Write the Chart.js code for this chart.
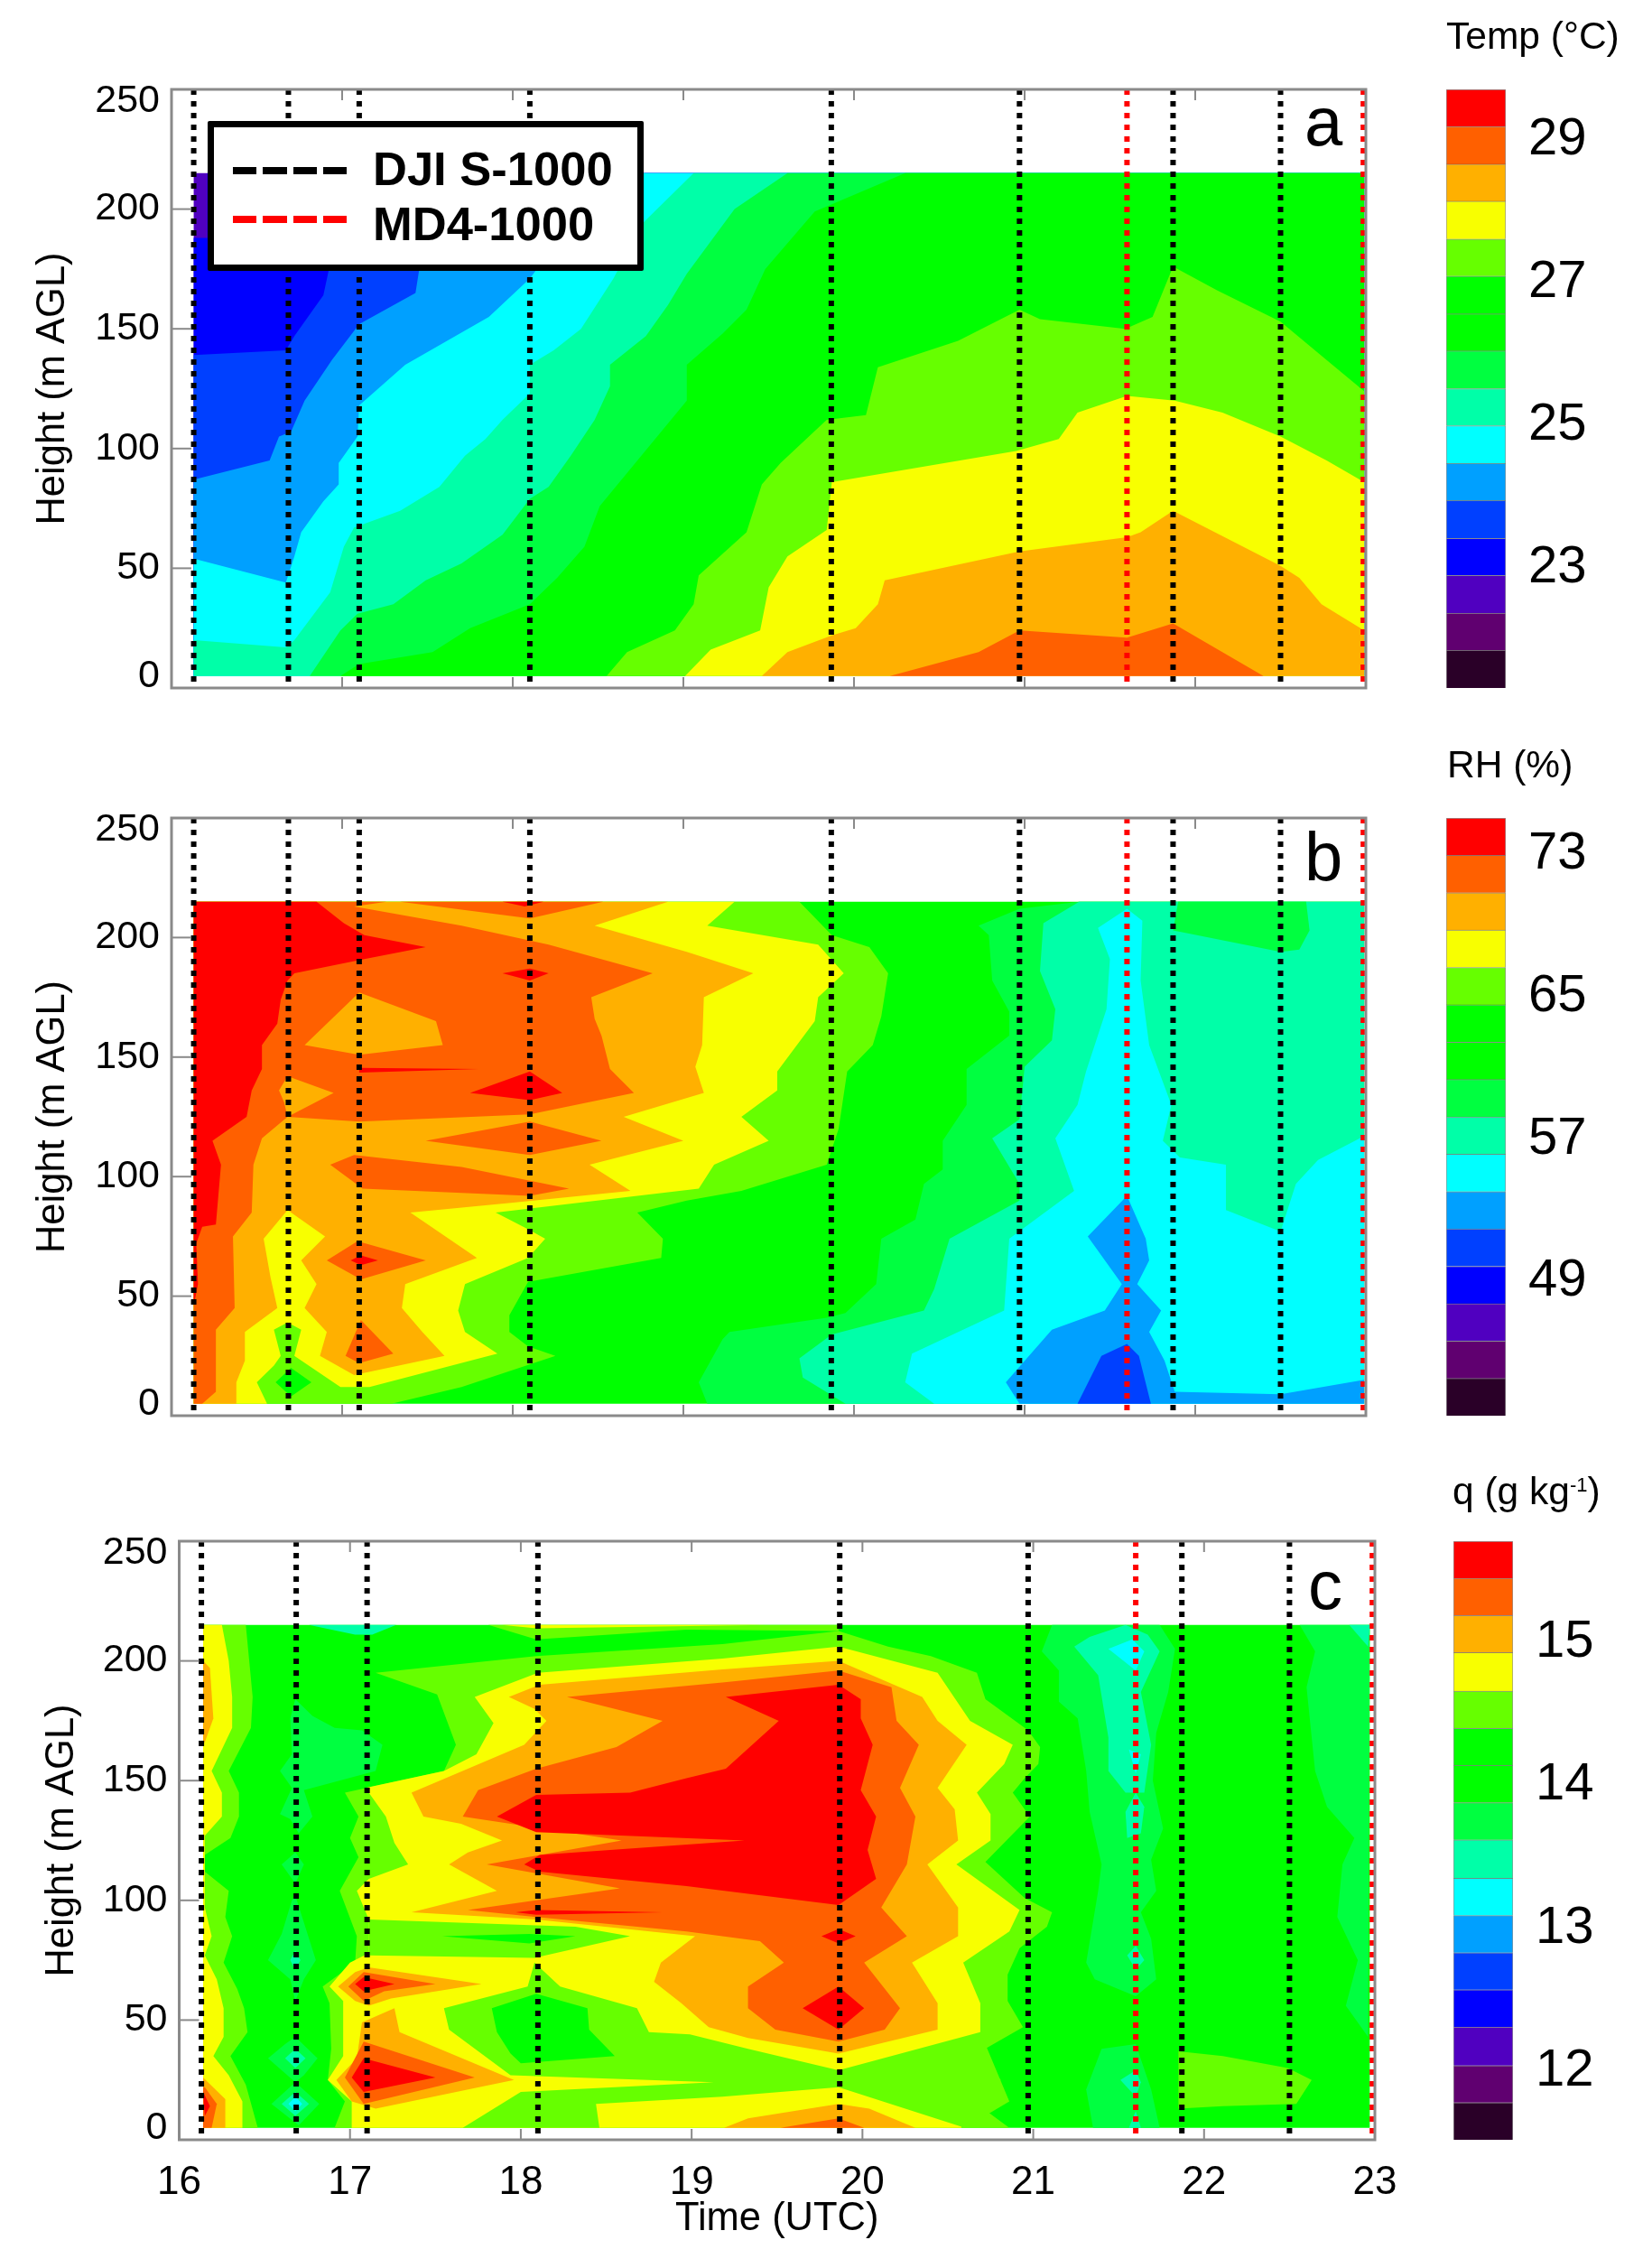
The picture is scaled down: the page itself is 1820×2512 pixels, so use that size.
<!DOCTYPE html>
<html>
<head>
<meta charset="utf-8">
<title>Temp, RH and q time-height sections</title>
<script src="https://cdn.jsdelivr.net/npm/chart.js@4"></script>
<style>
  html, body { margin: 0; padding: 0; background: #fff; }
  #page { position: relative; width: 1820px; height: 2512px; overflow: hidden; font-family: "Liberation Sans", Arial, sans-serif; color: #000; filter: blur(0.7px); }
  canvas { position: absolute; }
  .lbl { position: absolute; white-space: nowrap; line-height: 1; }
  .cbtitle { font-size: 42.5px; }
  .letter { font-size: 76px; }
  sup { font-size: 22px; line-height: 0; vertical-align: 14px; }
  #legend { position: absolute; left: 230px; top: 134px; width: 469px; height: 152px; border: 7px solid #000; background: #fff; border-radius: 2px; }
  #legend .dash { position: absolute; left: 21px; width: 126px; height: 8px; }
  #legend .name { position: absolute; left: 176px; font-size: 52.5px; font-weight: bold; line-height: 1; white-space: nowrap; }
</style>
</head>
<body>
<div id="page">
  <canvas id="panelA" width="1560" height="790" style="left:0;top:0"></canvas>
  <canvas id="panelB" width="1560" height="800" style="left:0;top:800px"></canvas>
  <canvas id="panelC" width="1560" height="900" style="left:0;top:1600px"></canvas>
  <canvas id="barA" width="218" height="723" style="left:1602px;top:69px"></canvas>
  <canvas id="barB" width="218" height="722" style="left:1602px;top:876px"></canvas>
  <canvas id="barC" width="210" height="723" style="left:1610px;top:1677px"></canvas>

  <div class="lbl cbtitle" style="left:1602px;top:19px">Temp (°C)</div>
  <div class="lbl cbtitle" style="left:1603px;top:826px">RH (%)</div>
  <div class="lbl cbtitle" style="left:1609px;top:1631px">q (g kg<sup>-1</sup>)</div>

  <div class="lbl letter" style="left:1445px;top:97px">a</div>
  <div class="lbl letter" style="left:1445px;top:911px">b</div>
  <div class="lbl letter" style="left:1449px;top:1718px">c</div>

  <div id="legend">
    <div class="dash" style="top:44px;background:repeating-linear-gradient(90deg,#000 0 26px,transparent 26px 33.5px)"></div>
    <div class="name" style="top:20px">DJI S-1000</div>
    <div class="dash" style="top:98px;background:repeating-linear-gradient(90deg,#f00 0 26px,transparent 26px 33.5px)"></div>
    <div class="name" style="top:81px">MD4-1000</div>
  </div>
</div>

<script>
// colour bands, bottom of the colour bar first
var bandColors = ["#2a0028", "#600070", "#5000c0", "#0000ff", "#0040ff", "#00a0ff", "#00ffff", "#00ffa8", "#00ff40", "#00ff00", "#00ff00", "#66ff00", "#f8ff00", "#ffb000", "#ff6000", "#ff0000"];

// flights, hours UTC
var flightsDji = [16.13, 16.685, 17.10, 18.10, 19.867, 20.97, 21.87, 22.50];
var flightsMd4 = [21.60, 22.985];

var hourTicks = [16, 17, 18, 19, 20, 21, 22, 23];
var heightTicks = [0, 50, 100, 150, 200, 250];

// colour bar levels
var tempLevels = [21.25, 21.78, 22.30, 22.83, 23.35, 23.88, 24.40, 24.93, 25.45, 25.98, 26.50, 27.03, 27.55, 28.08, 28.60, 29.13, 29.65];
var tempTicks = [23, 25, 27, 29];
var rhLevels = [41.3, 43.4, 45.5, 47.6, 49.7, 51.8, 53.9, 56.0, 58.1, 60.2, 62.3, 64.4, 66.5, 68.6, 70.7, 72.8, 74.9];
var rhTicks = [49, 57, 65, 73];
var qLevels = [11.50, 11.76, 12.02, 12.29, 12.55, 12.81, 13.07, 13.33, 13.60, 13.86, 14.12, 14.38, 14.64, 14.91, 15.17, 15.43, 15.69];
var qTicks = [12, 13, 14, 15];

// contour regions: flat lists of hour, height pairs

// Panel a - temperature
var tempBase = [16.13,5, 22.99,5, 22.99,215, 16.13,215];
var tempBlue = [16.13,188, 16.21,188, 16.21,215, 22.99,215, 22.99,5, 16.13,5];
var tempBlue2 = [16.13,139, 16.67,141, 16.72,147, 16.89,164, 16.92,174, 17.07,211, 17.13,215, 22.99,215, 22.99,5, 16.13,5];
var tempSky = [16.13,87, 16.575,95, 16.63,105, 16.70,107, 16.78,120, 16.94,137, 17.10,152, 17.43,165, 17.45,174, 17.64,198, 17.80,215, 22.99,215, 22.99,5, 16.13,5];
var tempCyan = [16.13,54, 16.67,44, 16.72,55, 16.76,65, 16.89,78, 16.98,85, 16.98,94, 17.09,105, 17.10,118, 17.37,135, 17.86,155, 18.10,171, 18.32,192, 18.69,215, 22.99,215, 22.99,5, 16.13,5];
var tempTeal = [16.13,20, 16.67,17, 16.72,20, 16.93,40, 17.01,59, 17.07,67, 17.34,74, 17.57,84, 17.72,97, 17.84,104, 17.94,112, 18.10,123, 18.10,135, 18.24,141, 18.40,150, 18.59,171, 18.76,194, 19.06,215, 22.99,215, 22.99,5, 16.13,5];
var tempSpring = [16.81,5, 16.99,24, 17.09,31, 17.30,35, 17.49,45, 17.70,52, 17.94,64, 18.10,79, 18.21,84, 18.34,97, 18.48,112, 18.57,126, 18.57,135, 18.78,147, 18.91,160, 19.02,173, 19.30,200, 19.61,215, 22.99,215, 22.99,5];
var tempGreen = [16.99,5, 17.10,10, 17.53,15, 17.75,25, 18.10,35, 18.26,46, 18.42,59, 18.51,76, 19.02,120, 19.02,135, 19.23,148, 19.37,158, 19.48,175, 19.77,199, 20.30,215, 22.99,215, 22.99,5];
var tempLime = [18.55,5, 18.67,15, 18.95,24, 19.06,35, 19.09,47, 19.37,65, 19.46,85, 19.57,94, 19.84,112, 20.07,114, 20.14,134, 20.61,145, 20.97,158, 21.09,154, 21.59,150, 21.75,155, 21.87,176, 22.13,166, 22.50,153, 22.77,137, 22.99,124, 22.99,5];
var tempYellow = [19.01,5, 19.16,16, 19.45,24, 19.50,42, 19.61,55, 19.84,66, 19.87,86, 20.95,99, 21.20,104, 21.31,115, 21.60,122, 21.88,120, 22.16,115, 22.50,105, 22.77,95, 22.99,86, 22.99,5];
var tempOrange = [19.46,5, 19.61,15, 19.87,22, 20.01,25, 20.14,35, 20.18,45, 20.97,57, 21.60,63, 21.68,65, 21.87,74, 22.50,51, 22.61,46, 22.74,35, 22.99,24, 22.99,5];
var tempDark = [20.21,5, 20.73,15, 20.97,24, 21.60,21, 21.87,27, 22.40,5];

var tempContours = [[2, tempBase], [3, tempBlue], [4, tempBlue2], [5, tempSky], [6, tempCyan], [7, tempTeal], [8, tempSpring], [10, tempGreen], [11, tempLime], [12, tempYellow], [13, tempOrange], [14, tempDark]];

// Panel b - relative humidity
var rhBase = [16.13,5, 22.99,5, 22.99,215, 16.13,215];
var rhLime = [16.13,5, 17.29,5, 17.70,12, 18.25,25, 18.09,29, 17.98,35, 17.98,42, 18.09,56, 18.87,66, 18.88,74, 18.73,85, 19.02,90, 19.34,94, 19.84,105, 19.91,120, 19.96,144, 20.11,155, 20.16,167, 20.20,185, 20.09,196, 19.87,201, 19.68,215, 16.13,215];
var rhYellow = [16.13,5, 16.56,5, 16.50,14, 16.60,21, 16.64,25, 16.60,36, 16.68,39, 16.76,36, 16.72,25, 16.99,12, 17.16,12, 17.91,26, 17.72,35, 17.68,44, 17.72,55, 18.09,66, 18.19,74, 18.09,78, 17.90,85, 19.09,95, 19.18,105, 19.50,115, 19.34,125, 19.55,136, 19.55,144, 19.77,165, 19.79,175, 19.94,185, 19.79,197, 19.14,205, 19.30,215, 16.13,215];
var rhGreenSpot = [16.61,14, 16.70,20, 16.82,14, 16.70,8];
var rhOrange = [16.13,5, 16.38,5, 16.38,14, 16.43,23, 16.43,35, 16.62,45, 16.58,58, 16.54,74, 16.68,86, 16.90,75, 16.76,65, 16.85,55, 16.78,45, 16.91,35, 16.87,25, 17.07,17, 17.60,25, 17.47,35, 17.35,45, 17.37,55, 17.79,66, 17.40,85, 17.99,89, 18.69,94, 18.45,105, 19.00,115, 18.65,125, 19.12,135, 19.07,146, 19.11,155, 19.12,175, 19.41,185, 19.02,194, 18.48,205, 18.91,215, 16.13,215];
var rhDark = [16.13,5, 16.18,5, 16.26,10, 16.26,36, 16.37,45, 16.36,75, 16.47,85, 16.48,105, 16.53,116, 16.68,125, 17.10,123, 18.10,126, 18.71,135, 18.57,145, 18.52,159, 18.48,166, 18.46,175, 18.82,185, 18.21,197, 17.70,205, 17.07,213, 17.26,215, 16.13,215];
var rhOrangeHole1 = [16.78,155, 17.10,177, 17.55,165, 17.59,155, 17.10,151];
var rhOrangeHole2 = [16.63,136, 16.68,142, 16.95,135, 16.68,125, 16.66,131];
var rhDark1 = [17.34,215, 18.10,208, 18.53,215];
var rhDark2 = [17.49,115, 18.10,123, 18.52,115, 18.10,109];
var rhDark3 = [16.93,105, 17.07,109, 17.70,104, 18.33,95, 18.10,92, 17.12,95];
var rhDark4 = [16.91,65, 17.09,73, 17.49,65, 17.11,57];
var rhDark5 = [17.02,25, 17.11,40, 17.30,26, 17.10,22];
var rhRed = [16.13,46, 16.155,55, 16.145,72, 16.18,79, 16.26,80, 16.29,105, 16.24,115, 16.44,125, 16.47,136, 16.53,145, 16.53,155, 16.62,164, 16.64,174, 16.68,182, 16.72,185, 17.13,191, 17.49,196, 17.13,201, 17.01,206, 16.85,215, 16.13,215];
var rhRed1 = [17.94,185, 18.10,187, 18.21,185, 18.10,182];
var rhRed2 = [17.10,145.5, 17.80,145, 17.10,143.5];
var rhRed3 = [17.75,135, 18.10,144, 18.29,135, 18.10,132];
var rhRed4 = [17.05,65, 17.11,67, 17.21,65, 17.11,63];
var rhRed5 = [17.94,215, 18.18,215, 18.07,213];
var rhSpring = [19.14,5, 19.09,14, 19.23,32, 19.27,35, 19.84,41, 19.95,43, 20.13,55, 20.16,74, 20.36,82, 20.41,97, 20.52,103, 20.52,115, 20.66,130, 20.66,145, 20.91,159, 20.91,169, 20.81,182, 20.79,201, 20.73,205, 20.97,212, 21.32,215, 22.99,215, 22.99,5];
var rhTeal = [19.95,5, 19.70,16, 19.68,24, 19.87,34, 20.41,44, 20.47,53, 20.56,74, 20.97,90, 20.97,97, 20.81,116, 20.97,124, 21.00,146, 21.16,157, 21.18,170, 21.09,186, 21.11,206, 21.32,215, 22.99,215, 22.99,5];
var rhSpringSpot = [21.87,203, 22.50,194, 22.61,195, 22.67,203, 22.65,215, 21.90,215];
var rhCyan = [20.47,5, 20.30,14, 20.34,26, 20.88,44, 20.91,74, 21.29,94, 21.18,116, 21.31,130, 21.36,144, 21.48,170, 21.50,191, 21.43,204, 21.60,212, 21.69,207, 21.68,182, 21.73,155, 21.86,130, 21.81,115, 21.91,108, 22.18,105, 22.18,86, 22.50,77, 22.59,97, 22.72,107, 22.99,117, 22.99,5];
var rhSky = [20.97,5, 20.89,14, 21.16,36, 21.47,44, 21.57,55, 21.37,75, 21.60,92, 21.71,74, 21.73,65, 21.66,55, 21.80,44, 21.73,35, 21.82,23, 21.88,10, 22.50,9, 22.99,15, 22.99,5];
var rhBlue2 = [21.31,5, 21.45,25, 21.60,30, 21.67,25, 21.74,5];

var rhContours = [[10, rhBase], [8, rhSpring], [7, rhTeal], [8, rhSpringSpot], [6, rhCyan], [5, rhSky], [4, rhBlue2], [11, rhLime], [10, rhGreenSpot], [12, rhYellow], [13, rhOrange], [14, rhDark], [13, rhOrangeHole1], [13, rhOrangeHole2], [14, rhDark1], [14, rhDark2], [14, rhDark3], [14, rhDark4], [14, rhDark5], [15, rhRed], [15, rhRed1], [15, rhRed2], [15, rhRed3], [15, rhRed4], [15, rhRed5]];

// Panel c - mixing ratio
var qBase = [16.14,5, 22.97,5, 22.97,215, 16.14,215];
var qLeftLime = [16.14,215, 16.39,215, 16.43,185, 16.42,172, 16.29,154, 16.35,145, 16.35,135, 16.30,126, 16.15,119, 16.14,116, 16.15,112, 16.29,104, 16.27,93, 16.31,85, 16.26,74, 16.34,63, 16.38,55, 16.40,45, 16.30,35, 16.39,23, 16.46,5, 16.14,5];
var qLeftYellow = [16.14,215, 16.25,215, 16.29,200, 16.31,185, 16.31,172, 16.19,154, 16.25,145, 16.25,135, 16.15,127, 16.15,97, 16.19,85, 16.15,77, 16.22,67, 16.26,55, 16.26,43, 16.20,35, 16.29,27, 16.37,16, 16.37,5, 16.14,5];
var qLeftOrange1 = [16.14,200, 16.18,197, 16.20,176, 16.15,166, 16.14,166];
var qLeftOrange2 = [16.14,26, 16.27,17, 16.27,5, 16.14,5];
var qLeftDark = [16.15,22, 16.22,15, 16.19,5, 16.14,5, 16.14,22];
var qLeftRed = [16.14,20, 16.18,14, 16.15,10];
var qSpring1 = [16.68,184, 16.78,177, 16.91,172, 17.07,171, 17.19,165, 17.15,154, 16.73,146, 16.78,135, 16.70,128, 16.65,134, 16.59,136, 16.66,147, 16.59,154, 16.66,161, 16.65,176];
var qSpring2 = [16.68,120, 16.73,115, 16.68,107, 16.60,115];
var qSpring3 = [16.68,102, 16.80,75, 16.73,67, 16.68,58, 16.65,67, 16.52,75, 16.60,86, 16.66,100];
var qSpring4 = [16.68,43, 16.81,34, 16.73,27, 16.68,24, 16.60,29, 16.52,34, 16.62,40];
var qSpring5 = [16.68,24, 16.82,15, 16.70,6, 16.54,15];
var qTeal1 = [16.62,34, 16.68,38, 16.74,34, 16.68,30];
var qTeal2 = [16.60,15, 16.68,20, 16.76,15, 16.68,10];
var qTeal3 = [16.65,75, 16.68,79, 16.71,75, 16.68,71];
var qCyan1 = [16.64,15, 16.68,18, 16.72,15, 16.68,12];
var qTopTeal = [16.76,215, 17.03,211, 17.13,211, 17.27,215];
var qMainLime = [16.91,5, 16.97,16, 16.87,25, 16.89,38, 16.88,57, 16.84,64, 17.03,74, 17.04,85, 16.94,104, 17.05,118, 17.00,126, 17.05,135, 16.97,145, 17.55,154, 17.62,165, 17.51,186, 17.15,195, 18.09,202, 19.18,207, 19.86,212.5, 20.15,206, 20.40,202, 20.67,195, 20.72,184, 20.97,171, 21.04,164, 21.03,157, 20.95,151, 20.88,145, 20.98,135, 20.72,116, 20.95,101, 21.11,95, 21.08,89, 20.92,80, 20.85,69, 20.85,58, 20.94,47, 20.67,36, 20.81,25, 20.67,15, 20.86,5];
var qTopLime = [17.81,215, 18.09,209, 18.97,213, 19.86,212.5, 19.86,215];
var qTopYellow = [17.89,215, 18.09,213.6, 19.44,215];
var qMainYellow = [17.01,5, 17.01,16, 16.87,25, 16.96,35, 16.96,58, 16.88,64, 17.00,74, 17.11,78, 17.11,92, 17.04,104, 17.11,109, 17.34,115, 17.26,124, 17.21,135, 17.09,147, 17.55,154, 17.74,161, 17.84,174, 17.73,185, 18.10,195, 19.18,201, 19.86,206, 20.44,195, 20.63,175, 20.88,165, 20.83,157, 20.67,145, 20.75,136, 20.75,125, 20.55,115, 20.92,96, 20.86,87, 20.59,74, 20.69,57, 20.69,45, 20.54,23, 20.58,5];
var qLowLime = [17.55,55, 18.04,64, 18.08,74, 18.23,64, 18.68,55, 18.75,45, 18.99,44, 19.33,38, 19.86,29, 20.69,45, 20.86,16, 20.60,5, 19.86,22, 19.18,18, 18.44,15, 18.46,5, 17.66,5, 18.00,20, 19.13,24, 17.94,27, 17.58,46];
var qLimeStrip = [17.11,92, 18.32,89, 18.64,85, 18.08,76, 17.11,77];
var qGreen1 = [17.54,85, 18.05,86, 18.32,85, 18.05,82];
var qGreen2 = [17.83,55, 18.09,61, 18.39,55, 18.40,46, 18.55,35, 18.00,32, 17.94,36, 17.86,45];
var qMainOrange = [17.36,145, 17.43,135, 17.65,132, 17.89,125, 17.69,120, 17.58,115, 17.86,104, 17.36,95, 18.09,92, 19.02,85, 18.82,74, 18.78,66, 18.94,57, 19.10,47, 19.33,42.5, 19.86,36, 20.44,46, 20.44,57, 20.29,74, 20.56,85, 20.56,97, 20.38,115, 20.56,125, 20.54,138, 20.44,147, 20.61,165, 20.44,175, 20.35,185, 19.86,200, 19.18,196.5, 18.11,190, 17.93,185, 18.08,180, 18.15,175, 18.02,165];
var qMainDark = [17.66,135, 17.75,146, 18.09,155, 18.56,164, 18.83,175, 18.27,185, 19.18,191, 19.86,196, 20.17,189, 20.20,175, 20.33,165, 20.22,147, 20.31,135, 20.26,115, 20.11,97, 20.26,85, 20.01,74, 20.22,55, 20.13,46, 19.86,41, 19.49,46, 19.33,55, 19.33,64, 19.54,74, 19.40,83, 18.97,87, 18.09,93, 17.69,96, 18.58,105, 17.80,115, 18.59,125];
var qMainRed = [17.86,135, 18.09,144, 18.64,145, 18.97,151, 19.20,155, 19.51,175, 19.20,185, 19.86,190, 19.99,184, 19.99,176, 20.06,165, 19.99,146, 20.08,135, 20.03,121, 20.08,109, 19.86,98, 18.97,106, 18.11,112, 18.02,115, 18.11,119, 19.31,125, 18.09,128.5];
var qRedThin = [17.97,95, 18.09,96, 18.83,95, 18.09,94];
var qRedSpot1 = [19.76,85, 19.86,88, 19.96,85, 19.86,82];
var qRedSpot2 = [19.65,55, 19.86,64, 20.01,55, 19.86,46];
var qOrange1 = [16.93,64, 17.03,70, 17.11,72, 17.77,65, 17.24,59, 17.11,56, 17.03,58];
var qOrange2 = [16.92,25, 17.04,34, 17.07,49, 17.26,55, 17.29,45, 17.96,25, 17.15,13, 17.01,16];
var qDark1 = [16.99,64, 17.08,70, 17.50,65, 17.20,62, 17.08,58];
var qDark2 = [16.97,26, 17.08,41, 17.73,26, 17.08,15];
var qRed1 = [17.03,65, 17.08,68, 17.26,65, 17.08,62];
var qRed2 = [17.01,26, 17.08,34, 17.50,26, 17.08,20];
var qLensOrange = [19.19,5, 19.33,9, 19.86,15, 20.04,13, 20.31,5];
var qLensDark = [19.52,5, 19.86,9, 20.01,5];
var qRightSpring1 = [21.11,215, 21.05,204, 21.15,196, 21.15,183, 21.26,176, 21.31,154, 21.33,137, 21.40,115, 21.38,104, 21.31,74, 21.36,67, 21.60,60, 21.72,67, 21.69,84, 21.63,95, 21.72,104, 21.69,117, 21.76,130, 21.70,150, 21.72,170, 21.79,187, 21.83,205, 21.74,215];
var qRightSpring2 = [21.35,5, 21.31,21, 21.40,38, 21.60,40, 21.69,21, 21.74,5];
var qRightTeal1 = [21.24,206, 21.33,210, 21.54,215, 21.67,211, 21.74,204, 21.63,187, 21.69,165, 21.65,145, 21.54,145, 21.44,154, 21.44,168, 21.38,194];
var qRightTeal2 = [21.54,137, 21.60,145, 21.65,139, 21.63,128, 21.55,126];
var qRightTeal3 = [21.55,77, 21.60,81, 21.65,75, 21.60,71];
var qRightTeal4 = [21.51,25, 21.60,29, 21.63,24, 21.60,18];
var qRightTeal5 = [21.56,5, 21.60,12, 21.63,5];
var qRightCyan1 = [21.44,205, 21.58,209, 21.65,204, 21.60,196];
var qRightCyan2 = [21.56,163, 21.63,161, 21.60,153];
var qEdgeSpring = [22.56,215, 22.65,204, 22.60,189, 22.65,154, 22.72,139, 22.88,126, 22.81,115, 22.78,93, 22.90,75, 22.83,56, 22.96,43, 22.97,215];
var qEdgeTeal = [22.85,215, 22.96,206, 22.97,215];
var qRightLime = [21.85,37, 22.11,35, 22.49,30, 22.63,25, 22.54,15, 22.11,14, 21.85,13];

var qContours = [[10, qBase], [11, qLeftLime], [12, qLeftYellow], [13, qLeftOrange1], [13, qLeftOrange2], [14, qLeftDark], [15, qLeftRed],
  [8, qSpring1], [8, qSpring2], [8, qSpring3], [8, qSpring4], [8, qSpring5], [7, qTeal1], [7, qTeal2], [7, qTeal3], [6, qCyan1], [7, qTopTeal],
  [8, qRightSpring1], [8, qRightSpring2], [7, qRightTeal1], [7, qRightTeal2], [7, qRightTeal3], [7, qRightTeal4], [7, qRightTeal5], [6, qRightCyan1], [6, qRightCyan2],
  [8, qEdgeSpring], [7, qEdgeTeal], [11, qRightLime],
  [11, qMainLime], [11, qTopLime], [12, qTopYellow], [12, qMainYellow], [11, qLowLime], [11, qLimeStrip], [10, qGreen1], [10, qGreen2],
  [13, qMainOrange], [14, qMainDark], [15, qMainRed], [15, qRedThin], [15, qRedSpot1], [15, qRedSpot2],
  [13, qOrange1], [13, qOrange2], [14, qDark1], [14, qDark2], [15, qRed1], [15, qRed2], [13, qLensOrange], [14, qLensDark]];

var frameColor = "#8a8a8a";
var textFont = "'Liberation Sans', Arial, sans-serif";

function toPoints(flat){
  var pts = [];
  for(var i = 0; i < flat.length; i = i + 2){
    pts.push({x: flat[i], y: flat[i + 1]});
  }
  return pts;
}

// fills a dataset as a closed polygon, points come from the chart's own scales
var contourFill = {
  id: "contourFill",
  beforeDatasetDraw: function(chart, args){
    var ds = chart.data.datasets[args.index];
    if(!ds.polygon || args.meta.data.length == 0) return;
    var ctx = chart.ctx;
    ctx.save();
    ctx.beginPath();
    args.meta.data.forEach(function(p, i){
      if(i == 0) ctx.moveTo(p.x, p.y); else ctx.lineTo(p.x, p.y);
    });
    ctx.closePath();
    ctx.fillStyle = ds.backgroundColor;
    ctx.fill();
    ctx.restore();
  }
};

// gray box, inward ticks and the two end labels that sit inside the axis range
var axisFrame = {
  id: "axisFrame",
  afterDatasetsDraw: function(chart){
    var ctx = chart.ctx;
    var a = chart.chartArea;
    var xs = chart.scales.x;
    var ys = chart.scales.y;
    ctx.save();
    ctx.strokeStyle = frameColor;
    ctx.lineWidth = 2;
    xs.ticks.forEach(function(t){
      var px = xs.getPixelForValue(t.value);
      ctx.beginPath();
      ctx.moveTo(px, a.top); ctx.lineTo(px, a.top + 12);
      ctx.moveTo(px, a.bottom); ctx.lineTo(px, a.bottom - 12);
      ctx.stroke();
    });
    ys.ticks.forEach(function(t){
      var py = ys.getPixelForValue(t.value);
      ctx.beginPath();
      ctx.moveTo(a.left, py); ctx.lineTo(a.left + 22, py);
      ctx.stroke();
    });
    ctx.lineWidth = 3;
    ctx.strokeRect(a.left, a.top, a.right - a.left, a.bottom - a.top);

    ctx.fillStyle = "#000";
    ctx.font = "43px " + textFont;
    ctx.textAlign = "right";
    ctx.textBaseline = "middle";
    ctx.fillText("250", a.left - 13, ys.getPixelForValue(250) + 13);
    ctx.fillText("0", a.left - 13, ys.getPixelForValue(0) - 13);
    ctx.restore();
  }
};

function flightDatasets(hours, color){
  return hours.map(function(h){
    return {
      data: [{x: h, y: 250}, {x: h, y: 0}],
      showLine: true,
      pointRadius: 0,
      borderColor: color,
      borderWidth: 6,
      borderDash: [6, 7],
      order: 0
    };
  });
}

function contourDatasets(contours){
  return contours.map(function(c, i){
    return {
      data: toPoints(c[1]),
      polygon: true,
      showLine: false,
      pointRadius: 0,
      backgroundColor: bandColors[c[0]],
      order: 1000 - i
    };
  });
}

function createPanel(id, contours, opt){
  var datasets = flightDatasets(flightsDji, "#000").concat(flightDatasets(flightsMd4, "#f00")).concat(contourDatasets(contours));
  return new Chart(document.getElementById(id), {
    type: "scatter",
    data: {datasets: datasets},
    options: {
      responsive: false,
      animation: false,
      layout: {padding: {top: opt.top, right: opt.right, left: 0, bottom: 0}},
      plugins: {legend: {display: false}, tooltip: {enabled: false}},
      scales: {
        x: {
          type: "linear",
          min: 16,
          max: 23,
          afterFit: function(scale){
            scale.height = opt.below;
            scale.paddingLeft = 0;
            scale.paddingRight = 0;
          },
          afterBuildTicks: function(scale){ scale.ticks = hourTicks.map(function(v){ return {value: v}; }); },
          grid: {display: false, drawTicks: false},
          border: {display: false},
          ticks: {display: opt.showHours, color: "#000", font: {size: 44, family: textFont}, padding: 21, maxRotation: 0},
          title: {display: opt.showHours, text: "Time (UTC)", color: "#000", font: {size: 43.5, family: textFont}, padding: {top: 0, bottom: 16}}
        },
        y: {
          min: 0,
          max: 250,
          afterFit: function(scale){
            scale.width = opt.left;
            scale.paddingTop = 0;
            scale.paddingBottom = 0;
          },
          afterBuildTicks: function(scale){ scale.ticks = heightTicks.map(function(v){ return {value: v}; }); },
          grid: {display: false, drawTicks: false},
          border: {display: false},
          ticks: {
            color: "#000",
            font: {size: 43, family: textFont},
            padding: 13,
            callback: function(v){ return (v == 0 || v == 250) ? "" : v; }
          },
          title: {display: true, text: "Height (m AGL)", color: "#000", font: {size: 43.5, family: textFont}, padding: {top: opt.titlePad, bottom: 0}}
        }
      }
    },
    plugins: [contourFill, axisFrame]
  });
}

function createColorBar(id, levels, ticks, shift){
  var datasets = bandColors.map(function(color, i){
    return {
      data: [[levels[i], levels[i + 1]]],
      backgroundColor: color,
      borderColor: "rgba(60,60,60,0.55)",
      borderWidth: 1,
      categoryPercentage: 1,
      barPercentage: 1
    };
  });
  return new Chart(document.getElementById(id), {
    type: "bar",
    data: {labels: [""], datasets: datasets},
    options: {
      responsive: false,
      animation: false,
      layout: {padding: {top: 30, bottom: 30}},
      plugins: {legend: {display: false}, tooltip: {enabled: false}},
      scales: {
        x: {stacked: true, display: false},
        y: {
          position: "right",
          min: levels[0],
          max: levels[levels.length - 1],
          afterFit: function(scale){
            scale.width = scale.chart.width - 66;
            scale.paddingTop = 0;
            scale.paddingBottom = 0;
          },
          afterBuildTicks: function(scale){ scale.ticks = ticks.map(function(v){ return {value: v}; }); },
          grid: {display: false, drawTicks: false},
          border: {display: false},
          ticks: {color: "#000", font: {size: 58, family: textFont}, padding: 25, labelOffset: shift}
        }
      }
    }
  });
}

createPanel("panelA", tempContours, {top: 99, below: 28, left: 190, right: 47, showHours: false, titlePad: 33});
createPanel("panelB", rhContours, {top: 106, below: 32, left: 190, right: 47, showHours: false, titlePad: 33});
createPanel("panelC", qContours, {top: 107, below: 130, left: 198.5, right: 37, showHours: true, titlePad: 43});

createColorBar("barA", tempLevels, tempTicks, 5);
createColorBar("barB", rhLevels, rhTicks, 3);
createColorBar("barC", qLevels, qTicks, 3);
</script>
</body>
</html>
